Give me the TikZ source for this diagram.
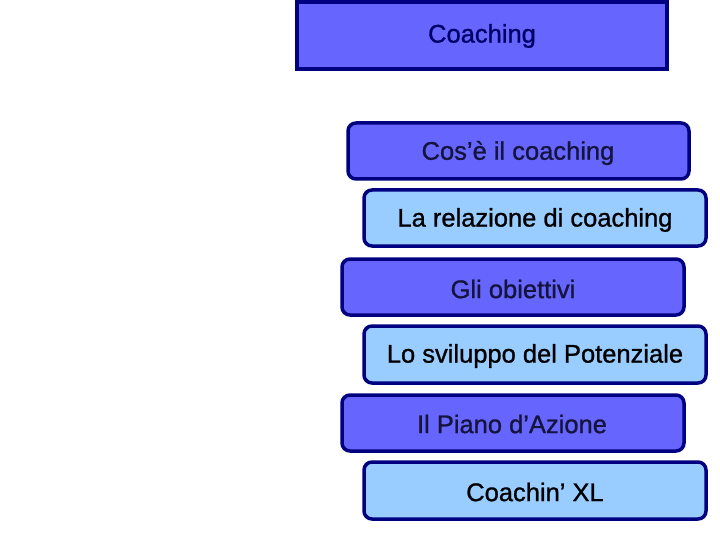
\documentclass[tikz,border=0pt]{standalone}
\usepackage{fontspec}
\setmainfont{Liberation Sans}
\newfontfamily\lblfont[BoldFont={Liberation Sans},BoldFeatures={FakeBold=1.0}]{Liberation Sans}
\definecolor{darkbox}{HTML}{6666FF}
\definecolor{lightbox}{HTML}{99CCFF}
\definecolor{edge}{HTML}{000080}
\definecolor{titletext}{HTML}{000066}
\definecolor{darktext}{HTML}{14143C}
\begin{document}
\begin{tikzpicture}[x=1pt,y=-1pt,
  titlebox/.style={draw=edge,line width=3.5pt,fill=darkbox},
  darkitem/.style={draw=edge,line width=3.5pt,fill=darkbox,rounded corners=8pt},
  lightitem/.style={draw=edge,line width=3.5pt,fill=lightbox,rounded corners=8pt},
  lbl/.style={font=\lblfont\bfseries\fontsize{25.5}{30}\selectfont,inner sep=0pt,anchor=center}]
\useasboundingbox (0,0) rectangle (720,540);
\fill[white] (0,0) rectangle (720,540);
\draw[titlebox] (297,2) rectangle (667,69);
\node[lbl,text=titletext] (t0) at (482,36) {Coaching};
\draw[darkitem] (348,123) rectangle (689,179);
\node[lbl,text=darktext] (t1) at (518,153) {Cos’è il coaching};
\draw[lightitem] (364,190) rectangle (706,246);
\node[lbl,text=black] (t2) at (535,220) {La relazione di coaching};
\draw[darkitem] (342,259) rectangle (684,315);
\node[lbl,text=darktext] (t3) at (513,289) {Gli obiettivi};
\draw[lightitem] (364,326) rectangle (706,383);
\node[lbl,text=black] (t4) at (535,356) {Lo sviluppo del Potenziale};
\draw[darkitem] (342,395) rectangle (684,451);
\node[lbl,text=darktext] (t5) at (512,424) {Il Piano d’Azione};
\draw[lightitem] (364,462) rectangle (706,519);
\node[lbl,text=black] (t6) at (535,492) {Coachin’ XL};
\end{tikzpicture}
\end{document}
